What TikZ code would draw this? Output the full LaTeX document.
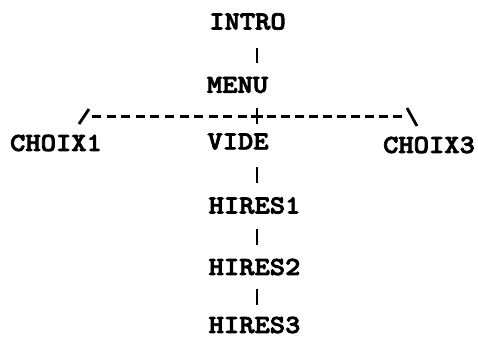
\documentclass[tikz,border=0pt]{standalone}
\usepackage{fontspec}
% Heavy slab-serif typewriter face, widened like a line-printer listing
\newfontfamily\typefont{lmmonolt10-bold}[Extension=.otf, FakeStretch=1.12, FakeBold=3]
\begin{document}
\begin{tikzpicture}[x=1pt, y=-1pt,
  lbl/.style={inner sep=0pt, font=\typefont\fontsize{26pt}{26pt}\selectfont},
  stroke/.style={line width=2.8pt},
  dashline/.style={line width=2.8pt, dash pattern=on 9pt off #1},
]
\useasboundingbox[fill=white] (0,0) rectangle (478,338);

% module names
\node[lbl] (intro)  at (247.5, 21.5) {INTRO};
\node[lbl] (menu)   at (237.5, 85)   {MENU};
\node[lbl] (choix1) at (56, 143)     {CHOIX1};
\node[lbl] (vide)   at (238, 141.5)  {VIDE};
\node[lbl] (choix3) at (429, 145)    {CHOIX3};
\node[lbl] (hires1) at (254.5, 205.5) {HIRES1};
\node[lbl] (hires2) at (254.5, 267) {HIRES2};
\node[lbl] (hires3) at (254.5, 325) {HIRES3};

% trunk column and branch bar
\coordinate (trunk) at (257, 116.5);
\coordinate (lefttop) at (89, 109);
\coordinate (leftfoot) at (79, 124);
\coordinate (righttop) at (407, 108);
\coordinate (rightfoot) at (417, 126);

% vertical links down the trunk, trimmed from the name centres
\draw[stroke, shorten <=26.5pt, shorten >=22pt] (intro.center -| trunk) -- (menu.center -| trunk);
\draw[stroke, shorten <=23pt, shorten >=17.5pt] (menu.center -| trunk) -- (vide.center -| trunk);
\draw[stroke, shorten <=25.5pt, shorten >=22.5pt] (vide.center -| trunk) -- (hires1.center -| trunk);
\draw[stroke, shorten <=23.5pt, shorten >=22pt] (hires1.center -| trunk) -- (hires2.center -| trunk);
\draw[stroke, shorten <=21.5pt, shorten >=20pt] (hires2.center -| trunk) -- (hires3.center -| trunk);

% branch: / ----------- + ---------- \
\draw[stroke] ([xshift=-6pt]trunk) -- ([xshift=6pt]trunk);
\draw[dashline=5.6pt] ([xshift=3pt]lefttop |- trunk) -- ([xshift=-10pt]trunk);
\draw[dashline=5pt] ([xshift=9.5pt]trunk) -- ([xshift=-5pt]righttop |- trunk);
\draw[stroke] (lefttop) -- (leftfoot);
\draw[stroke] (righttop) -- (rightfoot);
\end{tikzpicture}
\end{document}
